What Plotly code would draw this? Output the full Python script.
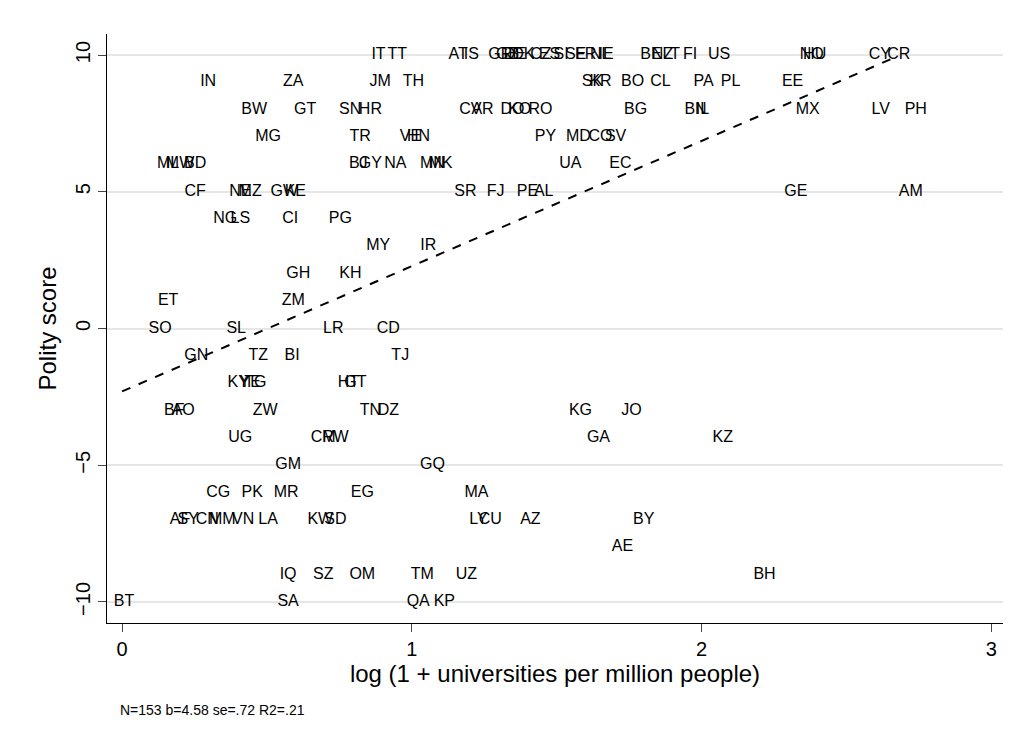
import plotly.graph_objects as go

# country codes, log(1 + universities per million), polity score
labels = [
    "IT", "TT", "AT", "IS", "GR", "GB", "DE", "DK", "CZ", "ES", "SI", "SE", "FR", "NL", "IE", "BE", "NZ", "LT", "FI", "US", "NO", "HU", "CY", "CR",
    "IN", "ZA", "JM", "TH", "SK", "KR", "BO", "CL", "PA", "PL", "EE",
    "BW", "GT", "SN", "HR", "CV", "AR", "DO", "KO", "RO", "BG", "BN", "IL", "MX", "LV", "PH",
    "MG", "TR", "VE", "HN", "PY", "MD", "CO", "SV",
    "ML", "MW", "BD", "BJ", "GY", "NA", "MN", "MK", "UA", "EC",
    "CF", "NE", "MZ", "GW", "KE", "SR", "FJ", "PE", "AL", "GE", "AM",
    "NG", "LS", "CI", "PG",
    "MY", "IR",
    "GH", "KH",
    "ET", "ZM",
    "SO", "SL", "LR", "CD",
    "GN", "TZ", "BI", "TJ",
    "KY", "YE", "TG", "HT", "GT",
    "BF", "AO", "ZW", "TN", "DZ", "KG", "JO",
    "UG", "CM", "RW", "GA", "KZ",
    "GM", "GQ",
    "CG", "PK", "MR", "EG", "MA",
    "AF", "SY", "CN", "MM", "VN", "LA", "KW", "SD", "LY", "CU", "AZ", "BY",
    "AE",
    "IQ", "SZ", "OM", "TM", "UZ", "BH",
    "BT", "SA", "QA", "KP",
]
x_univ = [
    0.885, 0.950, 1.160, 1.205, 1.305, 1.330, 1.355, 1.385, 1.445, 1.475, 1.515, 1.565, 1.600, 1.650, 1.670, 1.825, 1.865, 1.895, 1.960, 2.060, 2.380, 2.390, 2.615, 2.680,
    0.297, 0.591, 0.891, 1.005, 1.623, 1.651, 1.762, 1.858, 2.007, 2.100, 2.314,
    0.456, 0.632, 0.787, 0.857, 1.202, 1.244, 1.347, 1.372, 1.444, 1.772, 1.979, 2.003, 2.366, 2.618, 2.739,
    0.504, 0.822, 0.995, 1.023, 1.461, 1.575, 1.651, 1.703,
    0.159, 0.200, 0.252, 0.815, 0.857, 0.943, 1.071, 1.099, 1.547, 1.720,
    0.252, 0.408, 0.442, 0.560, 0.598, 1.185, 1.289, 1.399, 1.455, 2.325, 2.722,
    0.356, 0.408, 0.580, 0.753,
    0.884, 1.057,
    0.608, 0.788,
    0.159, 0.591,
    0.131, 0.394, 0.729, 0.919,
    0.256, 0.470, 0.587, 0.960,
    0.401, 0.442, 0.460, 0.781, 0.805,
    0.180, 0.211, 0.494, 0.857, 0.919, 1.582, 1.758,
    0.408, 0.694, 0.736, 1.644, 2.073,
    0.573, 1.071,
    0.332, 0.449, 0.566, 0.829, 1.223,
    0.200, 0.228, 0.294, 0.346, 0.418, 0.504, 0.684, 0.736, 1.230, 1.271, 1.409, 1.800,
    1.727,
    0.573, 0.694, 0.829, 1.036, 1.188, 2.217,
    0.007, 0.573, 1.022, 1.112,
]
polity = (
    [10] * 24 + [9] * 11 + [8] * 15 + [7] * 8 + [6] * 10 + [5] * 11 + [4] * 4
    + [3] * 2 + [2] * 2 + [1] * 2 + [0] * 4 + [-1] * 4 + [-2] * 5 + [-3] * 7
    + [-4] * 5 + [-5] * 2 + [-6] * 5 + [-7] * 12 + [-8] + [-9] * 6 + [-10] * 4
)

# fitted line reported in the note
fit_intercept = -2.3
fit_slope = 4.58
fit_x = [0, 2.68]
fit_y = [fit_intercept + fit_slope * v for v in fit_x]

font = "Liberation Sans, Arial, sans-serif"

fig = go.Figure()
fig.add_trace(go.Scatter(
    x=x_univ, y=polity, mode="text", text=labels,
    textposition="middle center",
    textfont=dict(family=font, size=16, color="black"),
))
fig.add_trace(go.Scatter(
    x=fit_x, y=fit_y, mode="lines",
    line=dict(color="black", width=2, dash="dash"),
))

fig.update_layout(
    width=1026, height=746,
    margin=dict(l=99, r=31, t=26, b=131),
    paper_bgcolor="white", plot_bgcolor="white",
    showlegend=False,
    font=dict(family=font, size=20, color="black"),
    annotations=[dict(
        text="N=153 b=4.58 se=.72 R2=.21", x=11 / 896, y=-87 / 589,
        xref="paper", yref="paper", showarrow=False,
        xanchor="left", yanchor="middle", font=dict(size=14),
    )],
)
fig.update_xaxes(
    range=[-0.052, 3.04], tickvals=[0, 1, 2, 3], showgrid=False, zeroline=False,
    showline=True, linecolor="black", ticks="outside", ticklen=8,
    title=dict(text="log (1 + universities per million people)", standoff=3),
)
fig.update_yaxes(
    range=[-10.77, 10.77], tickvals=[-10, -5, 0, 5, 10], tickangle=-90,
    showgrid=True, gridcolor="#e6e6e6", gridwidth=2, zeroline=False,
    showline=True, linecolor="black", ticks="outside", ticklen=8,
    title=dict(text="Polity score", standoff=8),
)

fig.write_html("out.html")
